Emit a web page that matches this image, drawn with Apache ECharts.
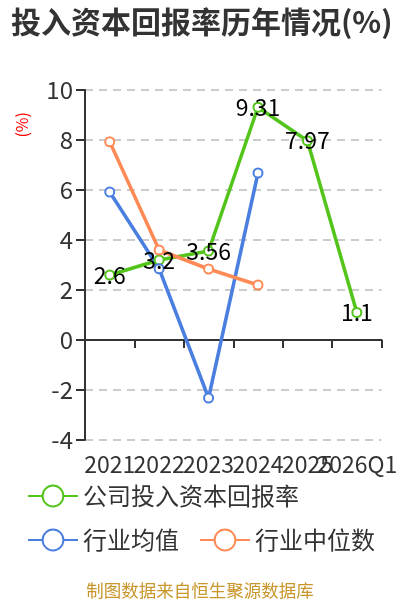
<!DOCTYPE html>
<html><head><meta charset="utf-8">
<script src="https://cdn.jsdelivr.net/npm/echarts@6/dist/echarts.min.js"></script>
<style>html,body{margin:0;padding:0;background:#fff}#c{width:400px;height:600px}</style>
</head><body><div id="c"></div>
<script>
const categories = ['2021','2022','2023','2024','2025','2026Q1'];
const companyROIC = [2.6, 3.2, 3.56, 9.31, 7.97, 1.1];
const industryAvg = [5.92, 2.85, -2.32, 6.68, null, null];
const industryMedian = [7.93, 3.6, 2.84, 2.2, null, null];
const yTicks = {min: -4, max: 10, interval: 2};

const chart = echarts.init(document.getElementById('c'));
const ff = '"Noto Sans CJK SC", "Noto Sans", sans-serif';
function lineSeries(name, data, color, label) {
  return {
    name, type: 'line', data, xAxisIndex: 0,
    symbol: 'emptyCircle', symbolSize: 9,
    lineStyle: {width: 3.5, color}, itemStyle: {color, borderWidth: 2},
    label: label ? {show: true, position: 'inside', color: '#000', fontSize: 23, fontFamily: ff} : {show: false},
    connectNulls: false
  };
}
chart.setOption({
  animation: false,
  textStyle: {fontFamily: ff},
  title: [{
    text: '投入资本回报率历年情况(%)', left: 6, top: 2,
    textStyle: {fontSize: 30, fontWeight: 'bold', color: '#333', fontFamily: ff}
  }, {
    text: '制图数据来自恒生聚源数据库', left: 'center', top: 577,
    textStyle: {fontSize: 17.5, fontWeight: 'normal', color: '#c8962b', fontFamily: ff}
  }],
  graphic: [{
    type: 'text', left: 14, top: 112, rotation: Math.PI / 2,
    style: {text: '(%)', fill: 'red', fontSize: 16, fontFamily: ff}
  }],
  grid: {left: 85, right: 15, top: 90, bottom: 160},
  legend: {
    left: 22, top: 479, width: 360, itemWidth: 50, itemHeight: 26, itemGap: 20,
    textStyle: {fontSize: 24, color: '#333', fontFamily: ff},
    data: ['公司投入资本回报率', '行业均值', '行业中位数']
  },
  xAxis: [{
    type: 'category', data: categories, boundaryGap: true,
    axisLine: {onZero: true, lineStyle: {color: '#333', width: 2}},
    axisTick: {show: true, interval: 0, length: 8, lineStyle: {color: '#333', width: 2}},
    axisLabel: {show: false}
  }, {
    type: 'category', data: categories, boundaryGap: true, position: 'bottom',
    axisLine: {show: false, onZero: false}, axisTick: {show: false},
    axisLabel: {show: true, interval: 0, fontSize: 23, color: '#333', margin: 13, fontFamily: ff}
  }],
  yAxis: {
    type: 'value', min: yTicks.min, max: yTicks.max, interval: yTicks.interval,
    axisLine: {show: true, lineStyle: {color: '#333', width: 2}},
    axisTick: {show: true, length: 9, lineStyle: {color: '#333', width: 2}},
    axisLabel: {fontSize: 24, color: '#333', margin: 12, fontFamily: ff},
    splitLine: {show: true, lineStyle: {type: [8, 6], color: '#ccc', width: 2}}
  },
  series: [
    lineSeries('公司投入资本回报率', companyROIC, '#52c41a', true),
    lineSeries('行业均值', industryAvg, '#4a7fe0', false),
    lineSeries('行业中位数', industryMedian, '#ff8a55', false)
  ]
});
</script></body></html>
